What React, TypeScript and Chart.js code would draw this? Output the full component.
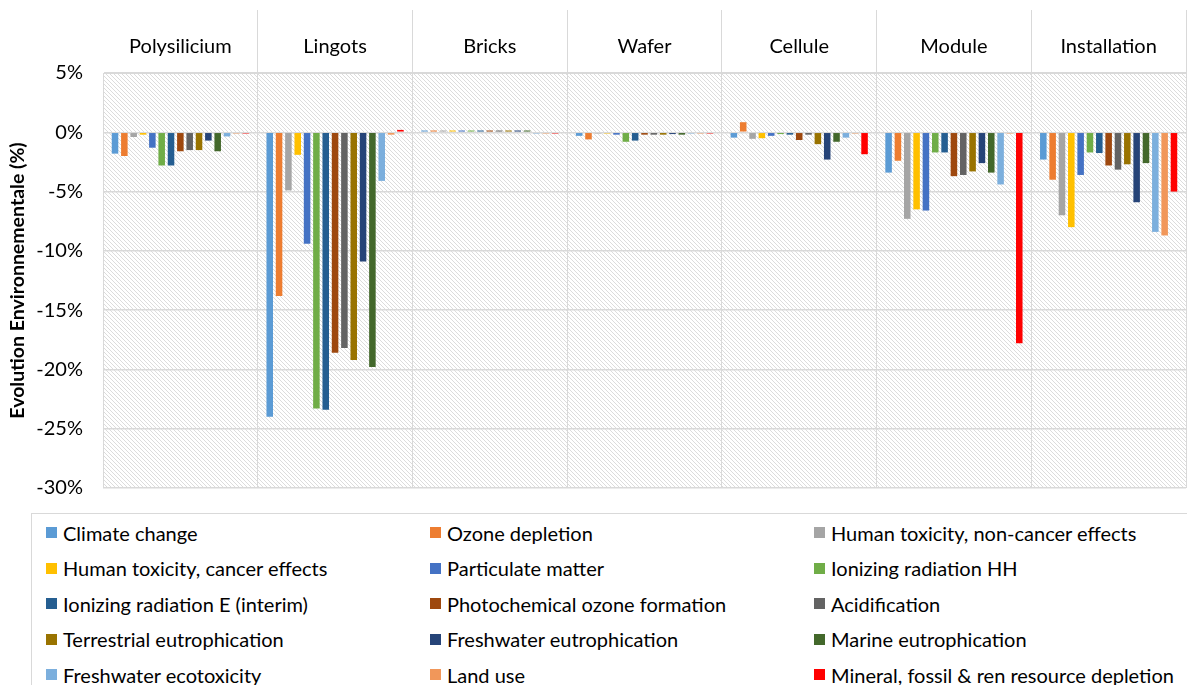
import React, { useEffect, useRef } from "react";
import { Chart, registerables } from "chart.js";

Chart.register(...registerables);

const categories = ["Polysilicium", "Lingots", "Bricks", "Wafer", "Cellule", "Module", "Installation"];

const seriesNames = [
  "Climate change",
  "Ozone depletion",
  "Human toxicity, non-cancer effects",
  "Human toxicity, cancer effects",
  "Particulate matter",
  "Ionizing radiation HH",
  "Ionizing radiation E (interim)",
  "Photochemical ozone formation",
  "Acidification",
  "Terrestrial eutrophication",
  "Freshwater eutrophication",
  "Marine eutrophication",
  "Freshwater ecotoxicity",
  "Land use",
  "Mineral, fossil & ren resource depletion",
];

const seriesColors = [
  "#5B9BD5", "#ED7D31", "#A5A5A5", "#FFC000", "#4472C4",
  "#70AD47", "#255E91", "#9E480E", "#636363", "#997300",
  "#264478", "#43682B", "#7CAFDD", "#F1975A", "#FF0000",
];

// values per series, ordered as categories (%)
const climateChange = [-1.8, -24.0, 0.15, -0.3, -0.45, -3.4, -2.3];
const ozoneDepletion = [-2.0, -13.8, 0.15, -0.6, 0.85, -2.4, -4.0];
const humanToxNonCancer = [-0.4, -4.9, 0.15, -0.1, -0.55, -7.3, -7.0];
const humanToxCancer = [-0.2, -1.9, 0.15, -0.1, -0.5, -6.5, -8.0];
const particulateMatter = [-1.3, -9.4, 0.15, -0.2, -0.3, -6.6, -3.6];
const ionizingHH = [-2.8, -23.3, 0.15, -0.8, -0.15, -1.7, -1.7];
const ionizingE = [-2.8, -23.4, 0.15, -0.7, -0.2, -1.7, -1.75];
const photochemical = [-1.6, -18.6, 0.15, -0.2, -0.65, -3.7, -2.8];
const acidification = [-1.5, -18.2, 0.15, -0.2, -0.2, -3.6, -3.15];
const terrestrialEutro = [-1.5, -19.2, 0.15, -0.2, -1.0, -3.3, -2.7];
const freshwaterEutro = [-0.7, -10.9, 0.15, -0.15, -2.3, -2.6, -5.9];
const marineEutro = [-1.6, -19.8, 0.15, -0.2, -0.8, -3.4, -2.6];
const freshwaterEcotox = [-0.35, -4.1, -0.1, -0.1, -0.45, -4.4, -8.4];
const landUse = [-0.1, -0.2, -0.1, -0.1, -0.1, -0.1, -8.7];
const mineralDepletion = [-0.1, 0.2, -0.1, -0.1, -1.85, -17.8, -5.0];

const seriesValues = [
  climateChange, ozoneDepletion, humanToxNonCancer, humanToxCancer, particulateMatter,
  ionizingHH, ionizingE, photochemical, acidification, terrestrialEutro,
  freshwaterEutro, marineEutro, freshwaterEcotox, landUse, mineralDepletion,
];

const yMin = -30;
const yMax = 5;
const yStep = 5;

const FONT = "Lato, 'Open Sans', sans-serif";

function makeHatch(): CanvasPattern | string {
  const c = document.createElement("canvas");
  c.width = 4;
  c.height = 4;
  const g = c.getContext("2d");
  if (!g) return "#f2f2f2";
  g.fillStyle = "#ffffff";
  g.fillRect(0, 0, 4, 4);
  g.fillStyle = "#dcdcdc";
  for (let i = 0; i < 4; i++) g.fillRect(i, i, 1, 1);
  const p = g.createPattern(c, "repeat");
  return p || "#f2f2f2";
}

const hatchPlugin = {
  id: "hatchBg",
  beforeDraw(chart: any) {
    const { ctx, chartArea } = chart;
    ctx.save();
    ctx.fillStyle = makeHatch();
    ctx.fillRect(chartArea.left, chartArea.top, chartArea.right - chartArea.left, chartArea.bottom - chartArea.top);
    ctx.restore();
  },
};

export default function App() {
  const ref = useRef<HTMLCanvasElement | null>(null);

  useEffect(() => {
    document.body.style.margin = "0";
    if (!ref.current) return;
    const chart = new Chart(ref.current, {
      type: "bar",
      data: {
        labels: categories,
        datasets: seriesNames.map((name, i) => ({
          label: name,
          data: seriesValues[i],
          backgroundColor: seriesColors[i],
          borderWidth: 0,
          categoryPercentage: 0.905,
          barPercentage: 0.7,
        })),
      },
      options: {
        animation: false,
        responsive: false,
        maintainAspectRatio: false,
        layout: { padding: { left: 0, right: 1, top: 0, bottom: 0 } },
        plugins: {
          legend: { display: false },
          tooltip: { enabled: false },
          title: { display: false },
        },
        scales: {
          x: {
            position: "top",
            grid: {
              offset: true,
              drawTicks: true,
              tickLength: 63,
              color: (c: any) => (c.index === 0 ? "rgba(0,0,0,0)" : "#d9d9d9"),
              tickColor: (c: any) => (c.index === 0 ? "rgba(0,0,0,0)" : "#d9d9d9"),
              lineWidth: 1,
            },
            border: { display: true, color: "#d9d9d9", width: 1 },
            ticks: {
              padding: -49,
              color: "#000000",
              font: { family: FONT, size: 20 },
              maxRotation: 0,
              autoSkip: false,
            },
            afterFit: (scale: any) => {
              scale.height = 73;
            },
          },
          y: {
            min: yMin,
            max: yMax,
            grid: { color: "#d9d9d9", lineWidth: 1.5, drawTicks: false },
            border: { display: true, color: "#d9d9d9", width: 1 },
            ticks: {
              stepSize: yStep,
              padding: 20,
              color: "#000000",
              font: { family: FONT, size: 20 },
              callback: (v: any) => `${v}%`,
            },
            title: {
              display: true,
              text: "Evolution Environnementale (%)",
              color: "#000000",
              font: { family: FONT, size: 19.5, weight: "bold" },
              padding: { top: 6, bottom: 0 },
            },
            afterFit: (scale: any) => {
              scale.width = 103;
            },
          },
        },
      },
      plugins: [hatchPlugin],
    });
    return () => chart.destroy();
  }, []);

  return (
    <div style={{ position: "relative", width: 1187, height: 685, background: "#fff", overflow: "hidden" }}>
      <canvas ref={ref} width={1187} height={520} style={{ position: "absolute", left: 0, top: 0 }} />
      <div
        style={{
          position: "absolute",
          left: 31,
          top: 513,
          width: 1170,
          height: 190,
          border: "1px solid #d9d9d9",
          boxSizing: "border-box",
          paddingLeft: 14,
          paddingTop: 1,
          display: "grid",
          gridTemplateColumns: "384px 384px 384px",
          gridAutoRows: "35.5px",
          fontFamily: FONT,
          fontSize: 20,
          color: "#000",
          background: "#fff",
        }}
      >
        {seriesNames.map((name, i) => (
          <div key={name} style={{ display: "flex", alignItems: "center", whiteSpace: "nowrap" }}>
            <span style={{ display: "inline-block", width: 11, height: 11, background: seriesColors[i], marginRight: 6 }} />
            <span>{name}</span>
          </div>
        ))}
      </div>
    </div>
  );
}
